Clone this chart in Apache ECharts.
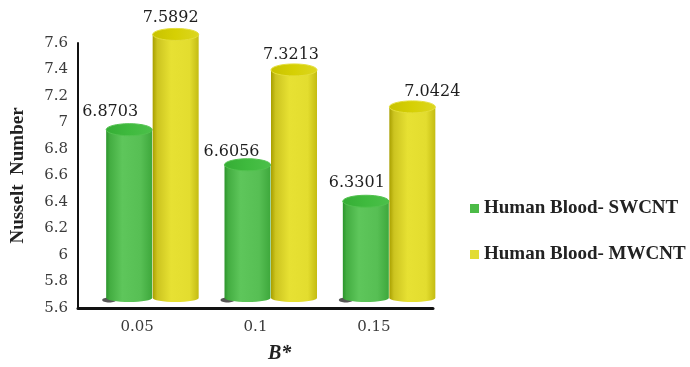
<!DOCTYPE html>
<html>
<head>
<meta charset="utf-8">
<script src="https://cdn.jsdelivr.net/npm/echarts@6/dist/echarts.min.js"></script>
<style>
  html, body { margin: 0; padding: 0; background: #fff; }
  #chart { width: 690px; height: 367px; }
</style>
</head>
<body>
<div id="chart"></div>
<script>
// Nusselt number for two nanofluids at three values of B*
const categories = ['0.05', '0.1', '0.15'];
const swcntValues = [6.8703, 6.6056, 6.3301];
const mwcntValues = [7.5892, 7.3213, 7.0424];
const seriesNames = ['Human Blood- SWCNT', 'Human Blood- MWCNT'];
const yMin = 5.6;
const yMax = 7.6;
const yStep = 0.2;

const SERIF = '"Liberation Serif", "Times New Roman", serif';
const NUM_SERIF = '"DejaVu Serif", "Liberation Serif", serif';

// cylinder look: width, top/bottom ellipse radii, perspective shift
const CYL_W = 46;
const TOP_RY = 6;
const BOT_RY = 4;
const SHIFT_Y = -10;
const centerOffset = [-8, 38.5];   // cylinder centre relative to category centre

// value label placement relative to the top ellipse centre
const labelOffsets = [
  [[-19, -18], [-16, -13], [-9, -18]],
  [[-5, -17], [-3, -15], [20, -15]]
];

const palettes = [
  {
    legend: '#4cbb47',
    body: [[0, '#2c952c'], [0.08, '#43ad41'], [0.35, '#5ec65b'], [0.75, '#57bf54'], [1, '#3ea83c']],
    top: [[0, '#35ad35'], [0.5, '#3fba3e'], [1, '#4cc04a']]
  },
  {
    legend: '#e2dc32',
    body: [[0, '#a89f00'], [0.1, '#ccc420'], [0.4, '#e7e133'], [0.8, '#e3dd2f'], [1, '#c4bc12']],
    top: [[0, '#c8c200'], [0.5, '#d6d004'], [1, '#dcd620']]
  }
];

function makeRender(s) {
  return function (params, api) {
    const idx = api.value(0);
    const val = api.value(1);
    const topPt = api.coord([idx, val]);
    const basePt = api.coord([idx, yMin]);
    const cx = topPt[0] + centerOffset[s];
    const topY = topPt[1] + SHIFT_Y;
    const botY = basePt[1] + SHIFT_Y;
    const l = cx - CYL_W / 2;
    const r = cx + CYL_W / 2;
    const rx = CYL_W / 2;
    const pal = palettes[s];
    const bodyFill = new echarts.graphic.LinearGradient(0, 0, 1, 0,
      pal.body.map(function (c) { return { offset: c[0], color: c[1] }; }));
    const topFill = new echarts.graphic.LinearGradient(0, 0, 1, 0,
      pal.top.map(function (c) { return { offset: c[0], color: c[1] }; }));
    const children = [];
    if (s === 0) {
      children.push({
        type: 'ellipse',
        shape: { cx: l + 3, cy: botY + 2, rx: 7, ry: 2.5 },
        style: { fill: 'rgba(30,30,30,0.75)' }
      });
    }
    children.push({
      type: 'path',
      shape: {
        pathData: 'M' + l + ' ' + topY + ' L' + l + ' ' + botY +
          ' A' + rx + ' ' + BOT_RY + ' 0 0 0 ' + r + ' ' + botY +
          ' L' + r + ' ' + topY + ' Z'
      },
      style: { fill: bodyFill }
    });
    children.push({
      type: 'ellipse',
      shape: { cx: cx, cy: topY, rx: rx, ry: TOP_RY },
      style: { fill: topFill, stroke: s === 0 ? '#52c24f' : '#e4de3a', lineWidth: 1 }
    });
    const off = labelOffsets[s][idx];
    children.push({
      type: 'text',
      style: {
        text: val.toFixed(4),
        x: cx + off[0],
        y: topY + off[1],
        align: 'center',
        verticalAlign: 'middle',
        font: '16px ' + NUM_SERIF,
        fill: '#1e1e1e'
      }
    });
    return { type: 'group', children: children };
  };
}

const seriesValues = [swcntValues, mwcntValues];

const chart = echarts.init(document.getElementById('chart'), null, { renderer: 'canvas' });
chart.setOption({
  animation: false,
  backgroundColor: '#ffffff',
  grid: { left: 78, right: 257, top: 43, bottom: 59, containLabel: false, outerBoundsMode: 'none' },
  legend: {
    orient: 'vertical',
    left: 465,
    top: 194,
    itemWidth: 9,
    itemHeight: 9,
    itemGap: 27,
    icon: 'rect',
    textStyle: { fontFamily: SERIF, fontWeight: 'bold', fontSize: 19, color: '#222' },
    data: seriesNames
  },
  xAxis: {
    type: 'category',
    data: categories,
    boundaryGap: true,
    axisLine: { lineStyle: { color: '#111', width: 3 } },
    axisTick: { show: false },
    axisLabel: { fontFamily: NUM_SERIF, fontSize: 15, color: '#3a3a3a', margin: 12 }
  },
  yAxis: {
    type: 'value',
    min: yMin,
    max: yMax,
    interval: yStep,
    name: 'Nusselt  Number',
    nameLocation: 'middle',
    nameRotate: 90,
    nameGap: 50,
    nameTextStyle: { fontFamily: SERIF, fontWeight: 'bold', fontSize: 19, color: '#222' },
    splitLine: { show: false },
    axisTick: { show: false },
    axisLine: { show: true, lineStyle: { color: '#111', width: 2 } },
    axisLabel: {
      fontFamily: NUM_SERIF, fontSize: 15, color: '#3a3a3a', margin: 10,
      formatter: function (v) { return String(+v.toFixed(1)); }
    }
  },
  graphic: [{
    type: 'text',
    left: 268,
    top: 344,
    style: {
      text: 'B*',
      font: 'italic bold 20px ' + SERIF,
      fill: '#222'
    }
  }],
  series: seriesNames.map(function (name, s) {
    return {
      type: 'custom',
      name: name,
      itemStyle: { color: palettes[s].legend },
      encode: { x: 0, y: 1 },
      data: seriesValues[s].map(function (v, i) { return [i, v]; }),
      renderItem: makeRender(s),
      z: 2 + s
    };
  })
});
</script>
</body>
</html>
